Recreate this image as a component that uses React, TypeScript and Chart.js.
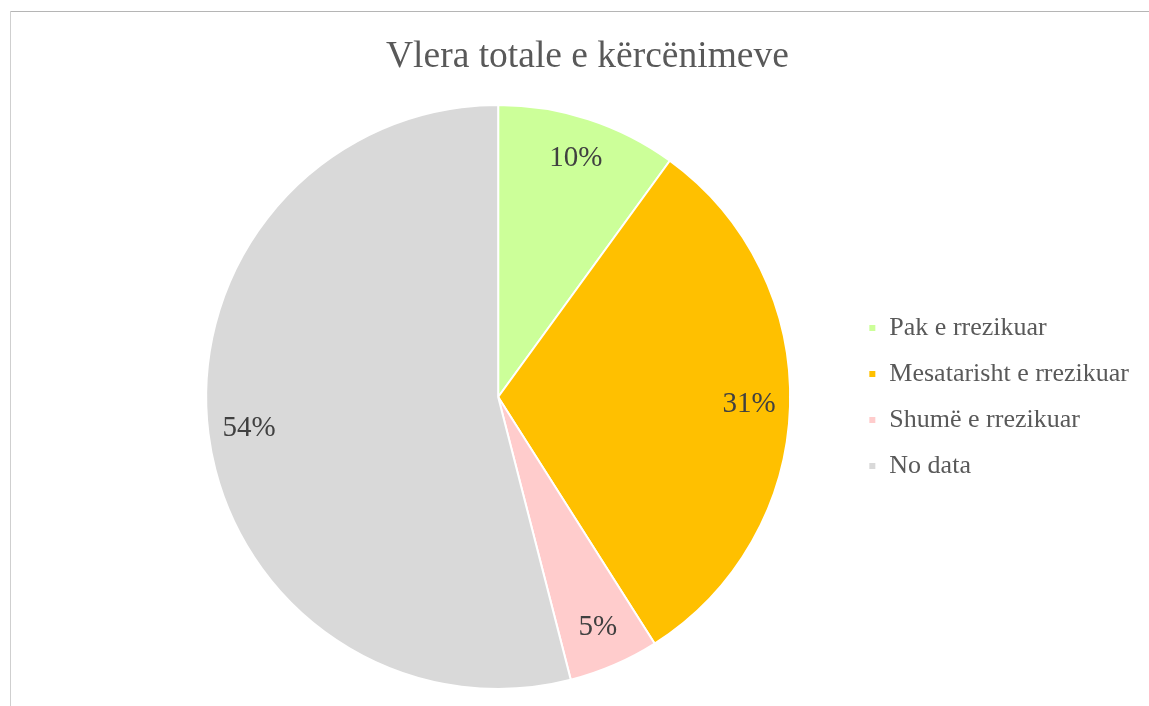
import React, { useEffect, useRef } from "react";
import { Chart, registerables } from "chart.js";

Chart.register(...registerables);

const titleText = "Vlera totale e kërcënimeve";
const categories = ["Pak e rrezikuar", "Mesatarisht e rrezikuar", "Shumë e rrezikuar", "No data"];
const values = [10, 31, 5, 54];
const colors = ["#ccff99", "#ffc000", "#ffcccc", "#d9d9d9"];

const FONT = "'Liberation Serif', 'Times New Roman', serif";

const labelPlugin = {
  id: "sliceLabels",
  afterDatasetsDraw(chart: any) {
    const ctx = chart.ctx;
    const meta = chart.getDatasetMeta(0);
    const data = chart.data.datasets[0].data as number[];
    const total = data.reduce((a, b) => a + b, 0);
    ctx.save();
    ctx.font = `29px ${FONT}`;
    ctx.fillStyle = "#404040";
    ctx.textAlign = "center";
    ctx.textBaseline = "middle";
    meta.data.forEach((arc: any, i: number) => {
      const p = arc.getProps(["x", "y", "startAngle", "endAngle", "outerRadius"], true);
      const mid = (p.startAngle + p.endAngle) / 2;
      const r = p.outerRadius * 0.86;
      const pct = Math.round((data[i] / total) * 100) + "%";
      ctx.fillText(pct, p.x + Math.cos(mid) * r, p.y + Math.sin(mid) * r);
    });
    ctx.restore();
  },
};

export default function App() {
  const ref = useRef<HTMLCanvasElement>(null);
  useEffect(() => {
    if (!ref.current) return;
    const chart = new Chart(ref.current, {
      type: "pie",
      data: {
        labels: categories,
        datasets: [
          {
            data: values,
            backgroundColor: colors,
            borderColor: "#ffffff",
            borderWidth: 2,
          },
        ],
      },
      options: {
        animation: false,
        responsive: false,
        maintainAspectRatio: false,
        layout: { padding: { top: 104, bottom: 16, left: 148, right: 10 } },
        plugins: {
          title: { display: false },
          legend: {
            position: "right",
            labels: {
              boxWidth: 8,
              boxHeight: 8,
              padding: 20,
              color: "#595959",
              font: { family: FONT, size: 26 },
            },
          },
          tooltip: { enabled: false },
        },
      },
      plugins: [labelPlugin],
    });
    return () => chart.destroy();
  }, []);
  return (
    <div style={{ position: "fixed", left: 0, top: 0, width: 1149, height: 706, background: "#fff" }}>
      <canvas ref={ref} width={1149} height={706} style={{ position: "absolute", left: 0, top: 0 }} />
      <div
        style={{
          position: "absolute",
          left: 386,
          width: 400,
          top: 36,
          textAlign: "center",
          whiteSpace: "nowrap",
          fontFamily: FONT,
          fontSize: 37.5,
          lineHeight: 1,
          color: "#595959",
        }}
      >
        {titleText}
      </div>
      <div style={{ position: "absolute", left: 10, top: 11, right: 0, height: 0, borderTop: "1px solid #b5b5b5" }} />
      <div style={{ position: "absolute", left: 10, top: 11, bottom: 0, width: 0, borderLeft: "1px solid #cfcfcf" }} />
    </div>
  );
}
